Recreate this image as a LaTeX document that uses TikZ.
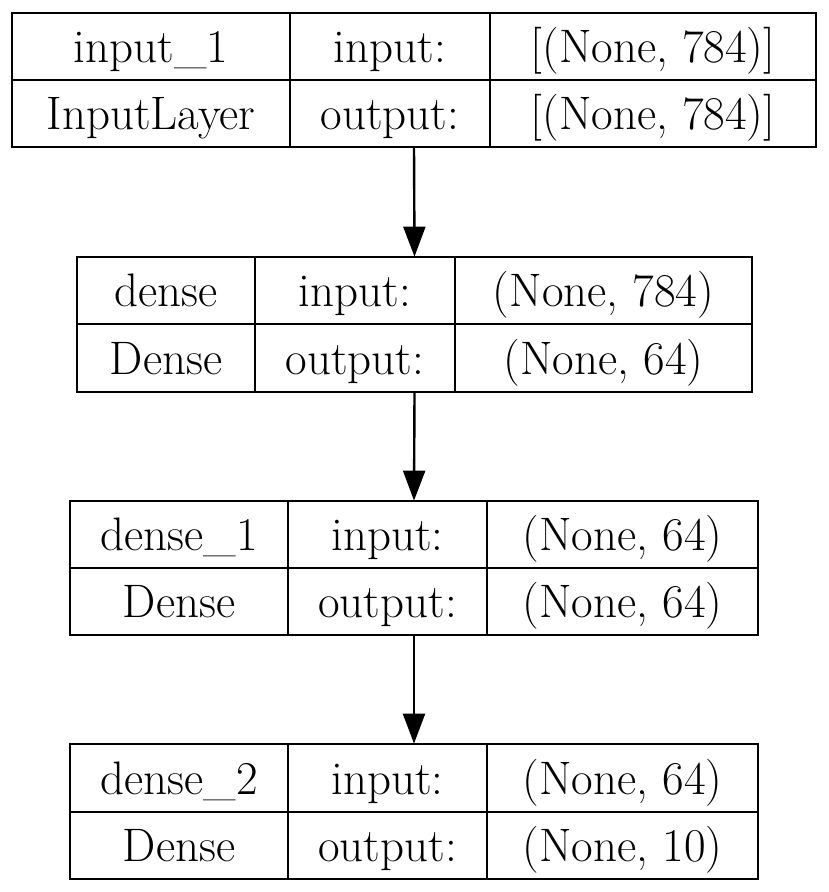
\documentclass[tikz,border=0pt]{standalone}
\usetikzlibrary{arrows.meta,fit}
\begin{document}
\begin{tikzpicture}[x=0.5pt,y=-0.5pt]
\tikzstyle{c} = [draw=black, line width=1.2pt, inner sep=0pt]
\tikzstyle{t} = [inner sep=0pt, text height=19pt, text depth=3pt, font=\fontsize{23.5}{28}\selectfont]
\tikzstyle{l} = [inner sep=0pt]
\tikzstyle{e} = [draw=black, line width=1.2pt, -{Triangle[width=11pt,length=15pt]}]

\useasboundingbox (0,0) rectangle (828,892);

% input_1
\node[l, fit={(12,13) (816,147)}] (L1) {};
\node[c, fit={(12,13) (290,80)}, label={[t]center:input\_1}] (n1) {};
\node[c, fit={(12,80) (290,147)}, label={[t]center:InputLayer}] (t1) {};
\node[c, fit={(290,13) (490,80)}, label={[t]center:input:}] (pi1) {};
\node[c, fit={(290,80) (490,147)}, label={[t]center:output:}] (po1) {};
\node[c, fit={(490,13) (816,80)}, label={[t]center:[(None, 784)]}] (si1) {};
\node[c, fit={(490,80) (816,147)}, label={[t]center:[(None, 784)]}] (so1) {};

% dense
\node[l, fit={(77,257) (752,392)}] (L2) {};
\node[c, fit={(77,257) (255,324)}, label={[t]center:dense}] (n2) {};
\node[c, fit={(77,324) (255,392)}, label={[t]center:Dense}] (t2) {};
\node[c, fit={(255,257) (455,324)}, label={[t]center:input:}] (pi2) {};
\node[c, fit={(255,324) (455,392)}, label={[t]center:output:}] (po2) {};
\node[c, fit={(455,257) (752,324)}, label={[t]center:(None, 784)}] (si2) {};
\node[c, fit={(455,324) (752,392)}, label={[t]center:(None, 64)}] (so2) {};

% dense_1
\node[l, fit={(70,501) (758,635)}] (L3) {};
\node[c, fit={(70,501) (288,568)}, label={[t]center:dense\_1}] (n3) {};
\node[c, fit={(70,568) (288,635)}, label={[t]center:Dense}] (t3) {};
\node[c, fit={(288,501) (487,568)}, label={[t]center:input:}] (pi3) {};
\node[c, fit={(288,568) (487,635)}, label={[t]center:output:}] (po3) {};
\node[c, fit={(487,501) (758,568)}, label={[t]center:(None, 64)}] (si3) {};
\node[c, fit={(487,568) (758,635)}, label={[t]center:(None, 64)}] (so3) {};

% dense_2
\node[l, fit={(70,744) (758,879)}] (L4) {};
\node[c, fit={(70,744) (288,812)}, label={[t]center:dense\_2}] (n4) {};
\node[c, fit={(70,812) (288,879)}, label={[t]center:Dense}] (t4) {};
\node[c, fit={(288,744) (487,812)}, label={[t]center:input:}] (pi4) {};
\node[c, fit={(288,812) (487,879)}, label={[t]center:output:}] (po4) {};
\node[c, fit={(487,744) (758,812)}, label={[t]center:(None, 64)}] (si4) {};
\node[c, fit={(487,812) (758,879)}, label={[t]center:(None, 10)}] (so4) {};

\draw[e] (L1.south) to (L2.north);
\draw[e] (L2.south) to (L3.north);
\draw[e] (L3.south) to (L4.north);
\end{tikzpicture}
\end{document}
